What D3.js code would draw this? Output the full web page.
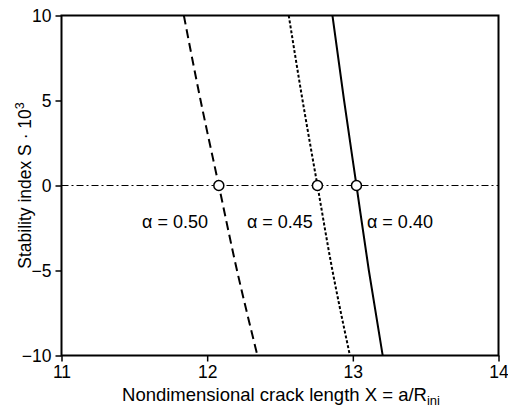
<!DOCTYPE html>
<html><head><meta charset="utf-8">
<script src="https://cdn.jsdelivr.net/npm/d3@7"></script>
<style>body{margin:0;background:#fff}svg{display:block}text{font-family:"Liberation Sans",Arial,sans-serif;fill:#000}</style>
</head><body>
<script>
const xTicks = [11, 12, 13, 14];
const yTicks = [-10, -5, 0, 5, 10];
const sLevels = [10, 5, 0, -5, -10];
const xAlpha050 = [11.84, 11.955, 12.08, 12.205, 12.345];
const xAlpha045 = [12.56, 12.655, 12.757, 12.86, 12.98];
const xAlpha040 = [12.86, 12.94, 13.025, 13.11, 13.205];
const crossX = [12.08, 12.757, 13.025];
const labels = ["α = 0.50", "α = 0.45", "α = 0.40"];
const labelX = [11.553, 12.273, 13.097];

const W = 508, H = 408;
const svg = d3.select("body").append("svg").attr("width", W).attr("height", H);
const x = d3.scaleLinear().domain([11, 14]).range([61.5, 498.5]);
const y = d3.scaleLinear().domain([-10, 10]).range([355.5, 15.5]);

const defs = svg.append("defs");
defs.append("clipPath").attr("id", "clip").append("rect")
  .attr("x", x(11)).attr("y", y(10)).attr("width", x(14) - x(11)).attr("height", y(-10) - y(10));

// frame
svg.append("rect").attr("x", x(11)).attr("y", y(10)).attr("width", x(14) - x(11)).attr("height", y(-10) - y(10))
  .attr("fill", "none").attr("stroke", "#000").attr("stroke-width", 2);

// axes
const xa = svg.append("g").attr("transform", `translate(0,${y(-10)})`)
  .call(d3.axisBottom(x).tickValues(xTicks).tickFormat(d3.format("d")).tickSize(6).tickPadding(4));
const ya = svg.append("g").attr("transform", `translate(${x(11)},0)`)
  .call(d3.axisLeft(y).tickValues(yTicks).tickFormat(d => d < 0 ? "\u2212" + Math.abs(d) : d).tickSize(6).tickPadding(4));
[xa, ya].forEach(g => {
  g.select(".domain").remove();
  g.selectAll("line").attr("stroke", "#000").attr("stroke-width", 1.5);
  g.selectAll("text").attr("font-size", 17.5).attr("font-family", "Liberation Sans, Arial, sans-serif").attr("fill", "#000");
});

const plot = svg.append("g").attr("clip-path", "url(#clip)");

// zero line dash-dot
plot.append("line").attr("x1", x(11)).attr("x2", x(14)).attr("y1", y(0)).attr("y2", y(0))
  .attr("stroke", "#000").attr("stroke-width", 1.2).attr("stroke-dasharray", "7,3,2,3");

const line = d3.line().x(d => x(d[0])).y(d => y(d[1])).curve(d3.curveMonotoneY);
const series = [
  {xs: xAlpha050, dash: "9,5"},
  {xs: xAlpha045, dash: "3,2"},
  {xs: xAlpha040, dash: null}
];
series.forEach(s => {
  const p = plot.append("path").datum(s.xs.map((v, i) => [v, sLevels[i]]))
    .attr("d", line).attr("fill", "none").attr("stroke", "#000").attr("stroke-width", 2);
  if (s.dash) p.attr("stroke-dasharray", s.dash);
});

svg.selectAll("circle.cross").data(crossX).enter().append("circle")
  .attr("cx", d => x(d)).attr("cy", y(0)).attr("r", 5)
  .attr("fill", "#fff").attr("stroke", "#000").attr("stroke-width", 1.5);

svg.selectAll("text.lab").data(labels).enter().append("text")
  .attr("x", (d, i) => x(labelX[i])).attr("y", 228)
  .attr("font-size", 18).text(d => d);

// axis titles
const xt = svg.append("text").attr("x", 281).attr("y", 401).attr("text-anchor", "middle").attr("font-size", 18.5);
xt.append("tspan").text("Nondimensional crack length X = a/R");
xt.append("tspan").attr("font-size", 13).attr("dy", 4).text("ini");

const yt = svg.append("text").attr("transform", `translate(31,${y(0)}) rotate(-90)`).attr("text-anchor", "middle").attr("font-size", 17.5);
yt.append("tspan").text("Stability index S \u00B7 10");
yt.append("tspan").attr("font-size", 12.5).attr("dy", -7).text("3");
</script>
</body></html>
